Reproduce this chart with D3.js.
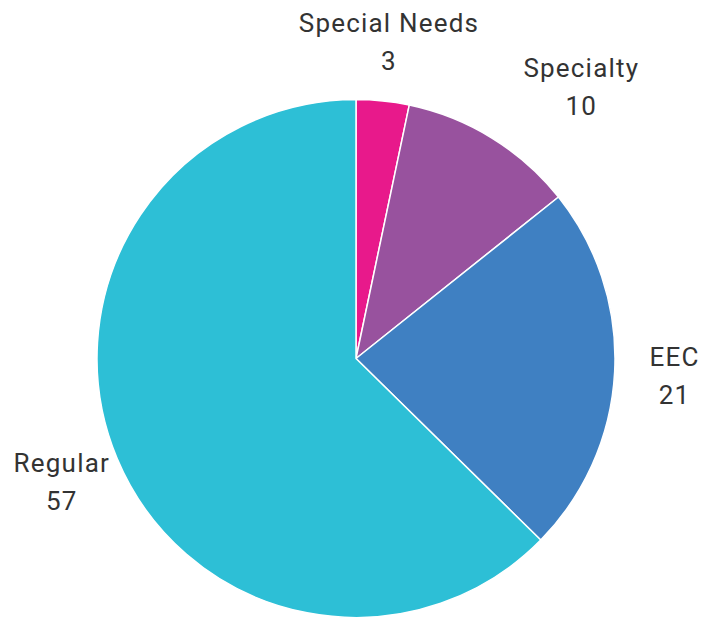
<!DOCTYPE html>
<html>
<head>
<meta charset="utf-8">
<script src="https://cdn.jsdelivr.net/npm/d3@7"></script>
<style>
  html, body { margin: 0; padding: 0; background: #fff; }
  svg { display: block; }
  .lbl { font-family: Roboto, "Liberation Sans", Arial, sans-serif; font-size: 26px; letter-spacing: 1.2px; fill: #333; }
</style>
</head>
<body>
<svg id="chart" width="701" height="620"></svg>
<script>
// Programme counts by school type
const categories = ["Special Needs", "Specialty", "EEC", "Regular"];
const counts = [3, 10, 21, 57];
const colors = ["#e8198b", "#98529e", "#3f80c2", "#2dbfd6"];

const width = 701, height = 620;
const cx = 356, cy = 358.5, radius = 259, labelRadius = 319;

const svg = d3.select("#chart");
const g = svg.append("g").attr("transform", `translate(${cx},${cy})`);

const data = categories.map((c, i) => ({ name: c, value: counts[i], color: colors[i] }));

const pie = d3.pie().value(d => d.value).sort(null);
const arcs = pie(data);
const arc = d3.arc().innerRadius(0).outerRadius(radius);
const labelArc = d3.arc().innerRadius(labelRadius).outerRadius(labelRadius);

g.selectAll("path.slice")
  .data(arcs)
  .join("path")
  .attr("class", "slice")
  .attr("d", arc)
  .attr("fill", d => d.data.color)
  .attr("stroke", "#fff")
  .attr("stroke-width", 1.5)
  .attr("stroke-linejoin", "round");

// Two-line labels (name, value) centred on the outer label ring
const labels = g.selectAll("g.label")
  .data(arcs)
  .join("g")
  .attr("class", "label")
  .attr("transform", d => `translate(${labelArc.centroid(d)})`);

labels.append("text").attr("class", "lbl").attr("text-anchor", "middle")
  .attr("y", -9.5).text(d => d.data.name);
labels.append("text").attr("class", "lbl").attr("text-anchor", "middle")
  .attr("y", 28.5).text(d => d.data.value);

// Simple collision pass: a label block that overlaps an earlier one is
// slid sideways so that its near edge sits on its anchor point.
const boxes = [];
labels.each(function(d) {
  const node = this;
  const [tx, ty] = labelArc.centroid(d);
  const bb = node.getBBox();
  let box = { x0: tx + bb.x, x1: tx + bb.x + bb.width, y0: ty + bb.y, y1: ty + bb.y + bb.height };
  const hit = boxes.some(o => box.x0 < o.x1 && box.x1 > o.x0 && box.y0 < o.y1 && box.y1 > o.y0);
  if (hit) {
    const mid = (d.startAngle + d.endAngle) / 2;
    const dx = (mid < Math.PI ? 1 : -1) * bb.width / 2;
    d3.select(node).attr("transform", `translate(${tx + dx},${ty})`);
    box = { x0: box.x0 + dx, x1: box.x1 + dx, y0: box.y0, y1: box.y1 };
  }
  boxes.push(box);
});
</script>
</body>
</html>
